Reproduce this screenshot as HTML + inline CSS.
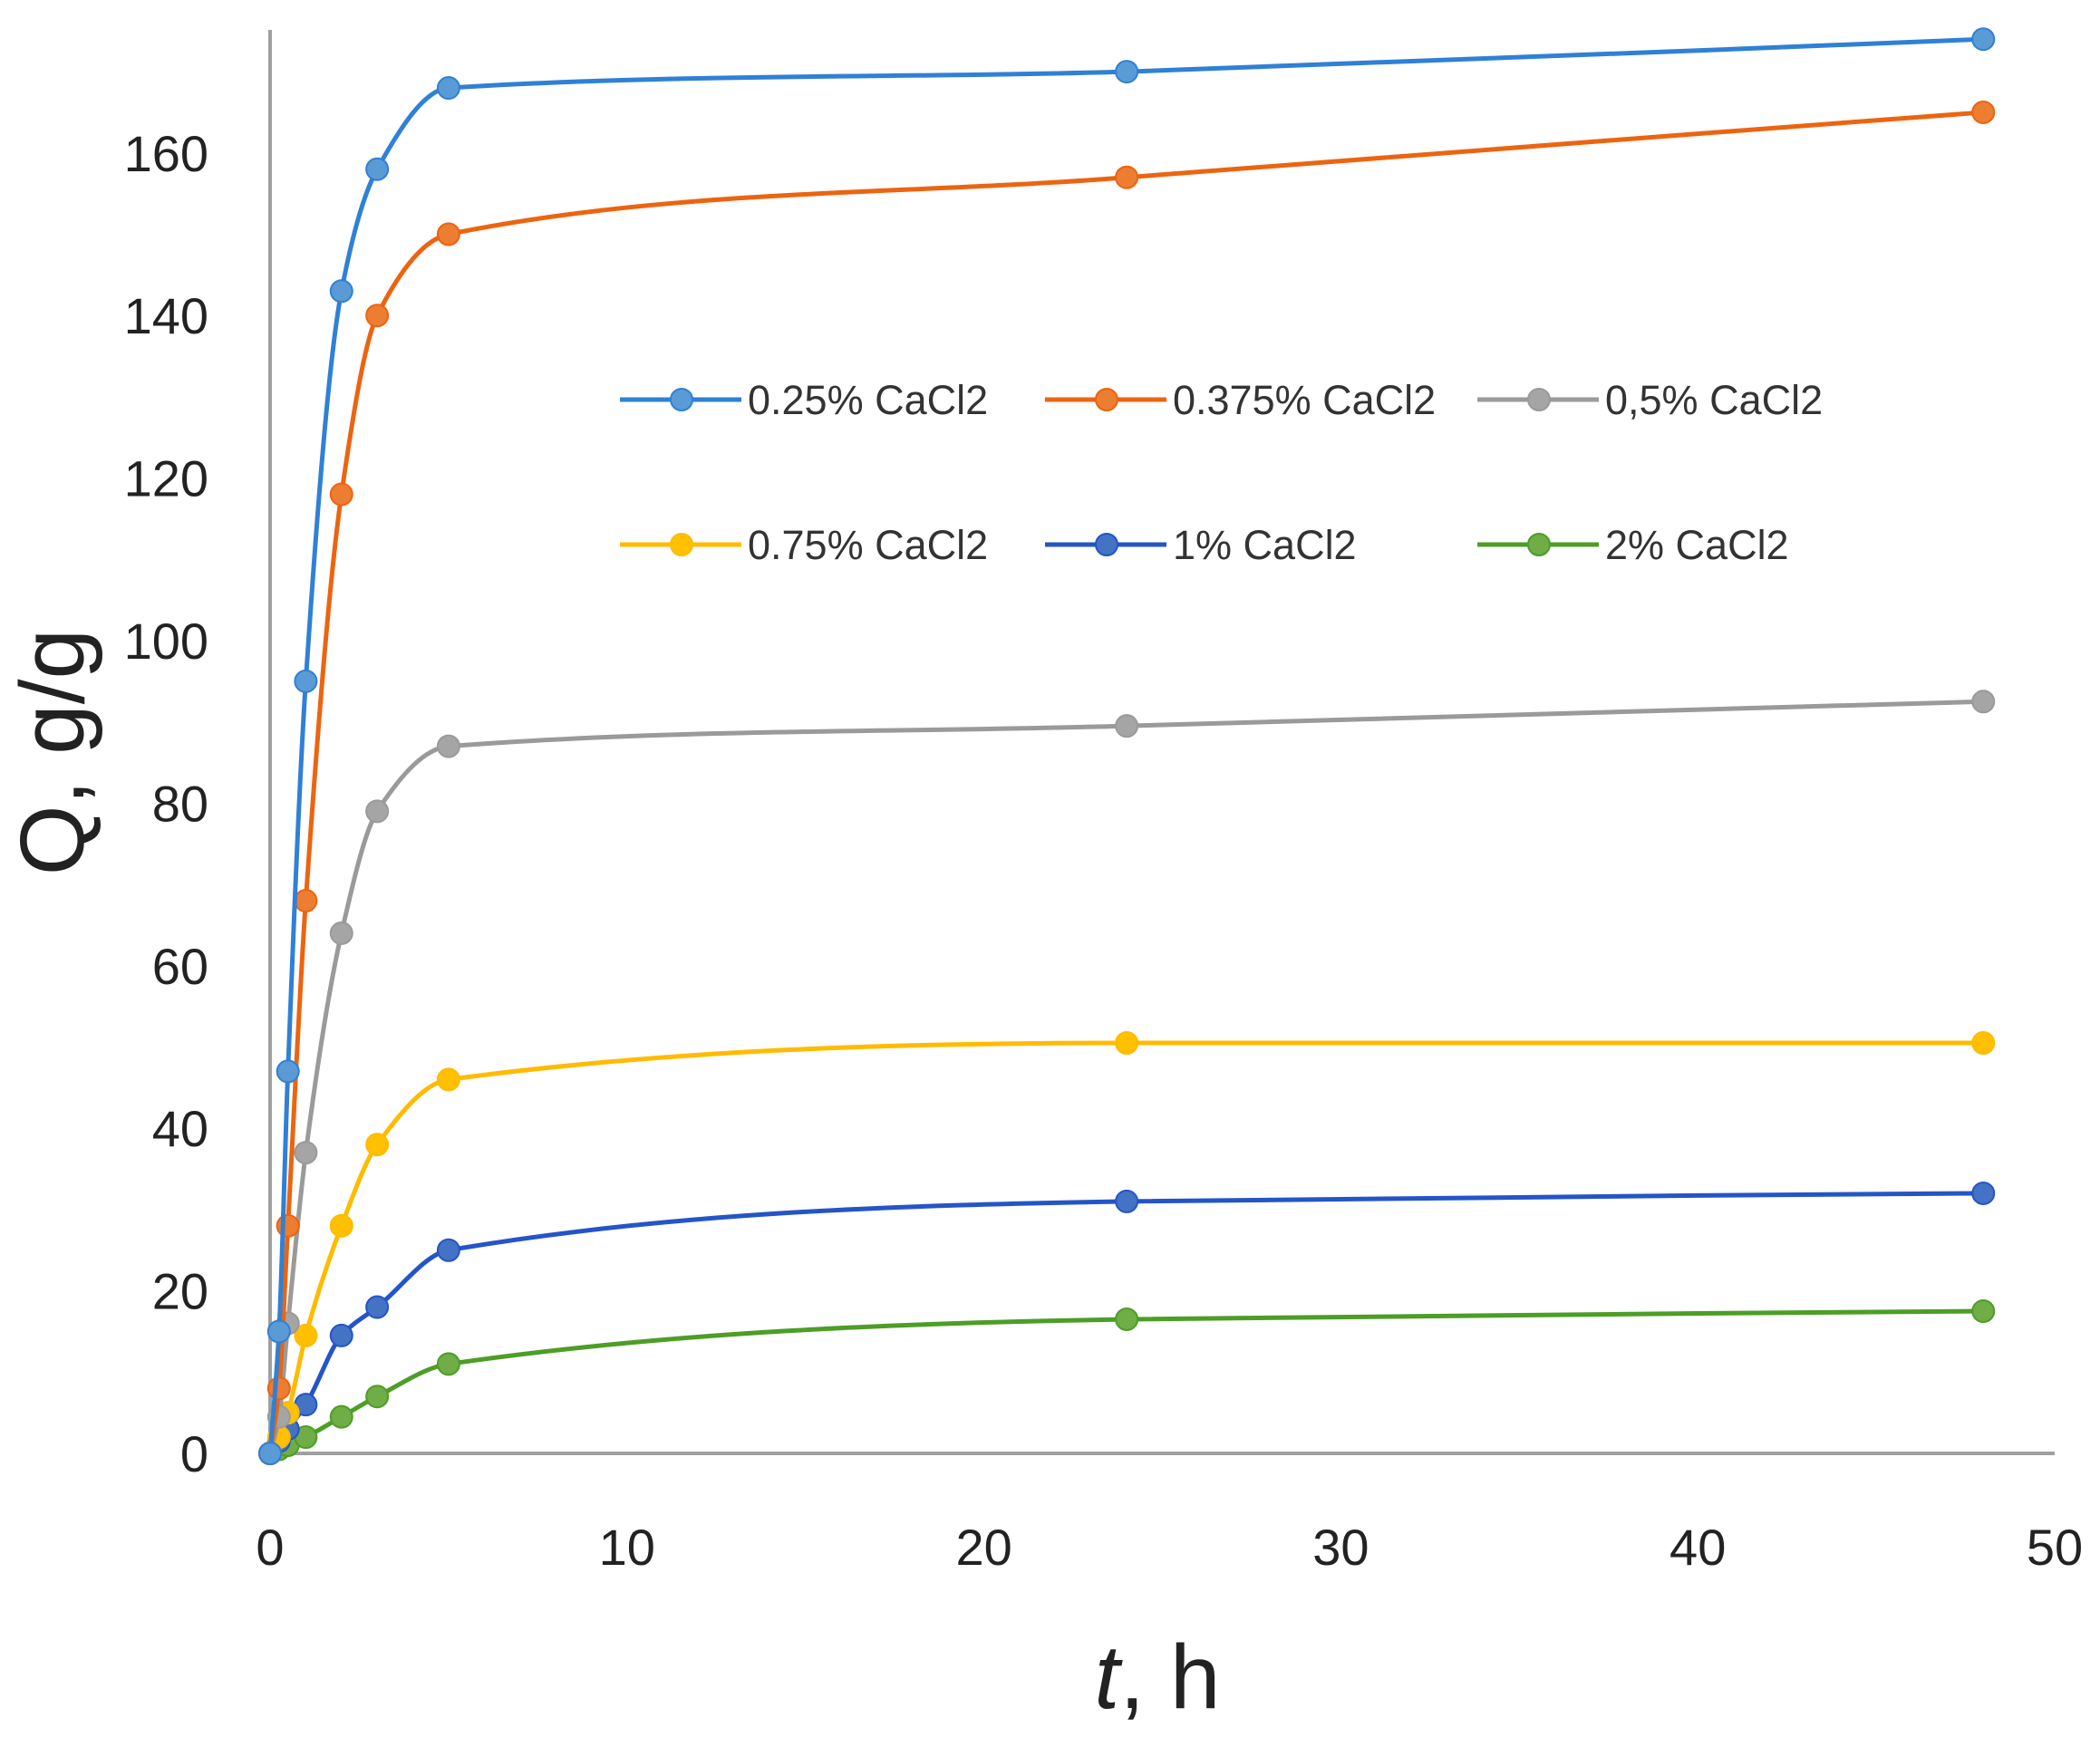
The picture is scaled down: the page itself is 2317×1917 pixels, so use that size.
<!DOCTYPE html>
<html><head><meta charset="utf-8"><style>
html,body{margin:0;padding:0;background:#fff;}
svg{display:block;font-family:"Liberation Sans",sans-serif;}
</style></head><body>
<svg id="chart" width="2317" height="1917" viewBox="0 0 2317 1917">
<g id="axes"></g>
<g id="series"></g>
<g id="legend"></g>
<text x="0" y="0" transform="translate(92,830) rotate(-90)" text-anchor="middle" font-size="100" fill="#222">Q, g/g</text>
<text x="1277" y="1885" text-anchor="middle" font-size="100" fill="#222"><tspan font-style="italic">t</tspan>, h</text>
</svg>
<script>
const times = [0, 0.25, 0.5, 1, 2, 3, 5, 24, 48];
const s025 = [0, 15, 47, 95, 143, 158, 168, 170, 174];
const s0375 = [0, 8, 28, 68, 118, 140, 150, 157, 165];
const s05 = [0, 4.5, 16, 37, 64, 79, 87, 89.5, 92.5];
const s075 = [0, 2, 5, 14.5, 28, 38, 46, 50.5, 50.5];
const s1 = [0, 1.5, 3, 6, 14.5, 18, 25, 31, 32];
const s2 = [0, 0.5, 1, 2, 4.5, 7, 11, 16.5, 17.5];
const seriesNames = ["0.25% CaCl2","0.375% CaCl2","0,5% CaCl2","0.75% CaCl2","1% CaCl2","2% CaCl2"];
const xTicks = [0, 10, 20, 30, 40, 50];
const yTicks = [0, 20, 40, 60, 80, 100, 120, 140, 160];

const NS = "http://www.w3.org/2000/svg";
const X0 = 298, X1 = 2267, Y0 = 1604, YTOP = 33;
const xs = v => X0 + (v / 50) * (X1 - X0);
const ys = v => Y0 - v * (179.4 / 20);
function mk(tag, attrs, parent){const e=document.createElementNS(NS,tag);for(const k in attrs)e.setAttribute(k,attrs[k]);parent.appendChild(e);return e;}

const axes = document.getElementById('axes');
let yl = mk('line',{x1:X0,y1:YTOP,x2:X0,y2:Y0,stroke:'#a0a0a0','stroke-width':4},axes);


let xl = mk('line',{x1:X0,y1:Y0,x2:X1,y2:Y0,stroke:'#a0a0a0','stroke-width':4},axes);


yTicks.forEach(v=>{
  const t = mk('text',{x:230,y:ys(v)+20,'text-anchor':'end','font-size':56,fill:'#222'},axes);
  t.textContent = v;
  
  
});
xTicks.forEach(v=>{
  const t = mk('text',{x:xs(v),y:1727,'text-anchor':'middle','font-size':56,fill:'#222'},axes);
  t.textContent = v;
  
  
});

const data = [s025, s0375, s05, s075, s1, s2];
const lineCols = ['#2f80d6','#ec6410','#9a9a9a','#ffbb00','#2455c8','#4c9e26'];
const markCols = ['#5b9bd5','#ed7d31','#a5a5a5','#ffc000','#4472c4','#70ad47'];
const sg = document.getElementById('series');
function monoPath(pts){
  const n=pts.length, d=[], m=[];
  for(let i=0;i<n-1;i++) d.push((pts[i+1][1]-pts[i][1])/(pts[i+1][0]-pts[i][0]));
  m[0]=d[0]; m[n-1]=d[n-2];
  for(let i=1;i<n-1;i++){
    if(d[i-1]*d[i]<=0) m[i]=0;
    else {const h0=pts[i][0]-pts[i-1][0],h1=pts[i+1][0]-pts[i][0];
      const w1=2*h1+h0,w2=h1+2*h0; m[i]=(w1+w2)/(w1/d[i-1]+w2/d[i]);}
  }
  let s=`M${pts[0][0]},${pts[0][1]}`;
  for(let i=0;i<n-1;i++){
    const h=(pts[i+1][0]-pts[i][0])/3;
    s+=` C${pts[i][0]+h},${pts[i][1]+m[i]*h} ${pts[i+1][0]-h},${pts[i+1][1]-m[i+1]*h} ${pts[i+1][0]},${pts[i+1][1]}`;
  }
  return s;
}
for(let s=data.length-1;s>=0;s--){
  const g = mk('g',{},sg);
  
  
  const pts = times.map((t,i)=>[xs(t),ys(data[s][i])]);
  const p = mk('path',{d:monoPath(pts),fill:'none',stroke:lineCols[s],'stroke-width':5},g);
  
  
  pts.forEach(pt=>{
    const c = mk('circle',{cx:pt[0],cy:pt[1],r:12,fill:markCols[s],stroke:lineCols[s],'stroke-width':2},g);
    
    
  });
}

const lg = document.getElementById('legend');
const lx = [684, 1153, 1630], ly = [441, 601];
seriesNames.forEach((n,i)=>{
  const x = lx[i%3], y = ly[Math.floor(i/3)];
  const g = mk('g',{},lg);
  
  
  mk('line',{x1:x,y1:y,x2:x+134,y2:y,stroke:lineCols[i],'stroke-width':5},g);
  mk('circle',{cx:x+68,cy:y,r:12,fill:markCols[i],stroke:lineCols[i],'stroke-width':2},g);
  const t = mk('text',{x:x+141,y:y+16,'font-size':45,fill:'#333'},g);
  t.textContent = n;
});
</script>
</body></html>
